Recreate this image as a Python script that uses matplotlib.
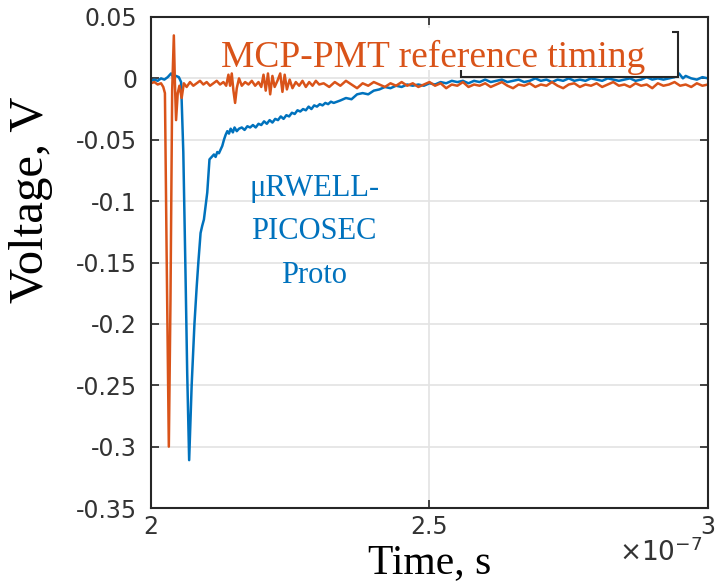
import numpy as np
import matplotlib
matplotlib.use("Agg")
import matplotlib.pyplot as plt
from matplotlib.patches import Rectangle
from matplotlib.ticker import FixedLocator, FuncFormatter

BLUE = "#0072BD"
ORANGE = "#D95319"
AXIS_GREY = "#262626"

# MCP-PMT reference signal (time in ns, voltage in V)
mcp_t = [200.0, 200.6, 201.2, 201.8, 202.2, 202.5, 202.8, 203.2, 203.5, 203.8,
         204.1, 204.3, 204.5, 204.8, 205.1, 205.5, 205.9, 206.4, 207.0, 207.6,
         208.2, 208.8, 209.4, 210.0, 210.6, 211.2, 211.8, 212.4, 213.0, 213.5,
         213.9, 214.2, 214.5, 214.8, 215.1, 215.4, 215.8, 216.3, 216.9, 217.5,
         218.1, 218.7, 219.3, 219.8, 220.2, 220.6, 221.0, 221.4, 221.8, 222.2,
         222.7, 223.2, 223.6, 224.0, 224.4, 224.9, 225.4, 226.0, 226.6, 227.2,
         227.8, 228.4, 229.0, 229.6, 230.2,
         231, 232, 233, 234, 235, 236, 237, 238, 239, 240,
         241, 242, 243, 244, 245, 246, 247, 248, 249, 250,
         251, 252, 253, 254, 255, 256, 257, 258, 259, 260,
         261, 262, 263, 264, 265, 266, 267, 268, 269, 270,
         271, 272, 273, 274, 275, 276, 277, 278, 279, 280,
         281, 282, 283, 284, 285, 286, 287, 288, 289, 290,
         291, 292, 293, 294, 295, 296, 297, 298, 299, 300]
mcp_v = [-0.004, -0.003, -0.005, -0.004, -0.007, -0.012, -0.140, -0.300, -0.180, -0.010,
         0.035, -0.005, -0.034, -0.012, -0.006, -0.016, -0.004, -0.007, -0.003, -0.006,
         -0.004, -0.002, -0.005, -0.003, -0.006, -0.004, -0.002, -0.005, -0.003, -0.006,
         0.003, -0.006, 0.004, -0.010, -0.020, -0.008, 0.000, -0.006, -0.003, -0.005,
         -0.002, -0.006, -0.003, -0.007, 0.003, -0.010, 0.004, -0.013, 0.002, -0.007,
         -0.002, 0.004, -0.011, 0.003, -0.009, -0.001, -0.008, -0.003, -0.006, -0.002,
         -0.007, -0.003, -0.006, -0.002, -0.005,
         -0.004, -0.007, -0.003, -0.006, -0.002, -0.005, -0.008, -0.004, -0.006, -0.003,
         -0.005, -0.007, -0.004, -0.006, -0.003, -0.006, -0.004, -0.007, -0.005, -0.003,
         -0.006, -0.004, -0.008, -0.005, -0.006, -0.003, -0.007, -0.005, -0.006, -0.004,
         -0.007, -0.005, -0.003, -0.006, -0.008, -0.005, -0.006, -0.004, -0.007, -0.005,
         -0.006, -0.003, -0.006, -0.008, -0.005, -0.004, -0.007, -0.005, -0.006, -0.004,
         -0.007, -0.005, -0.003, -0.006, -0.005, -0.007, -0.004, -0.006, -0.005, -0.008,
         -0.004, -0.006, -0.005, -0.003, -0.006, -0.005, -0.007, -0.004, -0.006, -0.005]

# uRWELL-PICOSEC prototype signal (time in ns, voltage in V)
pico_t = [200.0, 200.6, 201.2, 201.8, 202.4, 203.0, 203.6, 204.0, 204.5, 205.0,
          205.4, 205.8, 206.2, 206.5, 206.85, 207.3, 207.8, 208.2, 208.5, 208.9,
          209.2, 209.5, 209.8, 210.1, 210.5, 210.9, 211.3, 211.6, 211.9, 212.2,
          212.5, 212.8, 213.1, 213.4, 213.7, 214.0, 214.3, 214.7, 215.0, 215.4,
          215.8, 216.3, 216.8, 217.3, 217.8, 218.3, 218.8, 219.3, 219.8, 220.3,
          220.8, 221.3, 221.8, 222.3, 222.8, 223.3, 223.8, 224.3, 224.8, 225.3,
          225.8, 226.3, 226.8, 227.3, 227.8, 228.3, 228.8, 229.3, 229.8, 230.3,
          230.8, 231.3, 231.8, 232.3, 232.8,
          234, 235, 236, 237, 238, 239, 240, 241, 242, 243,
          244, 245, 246, 247, 248, 249, 250, 251, 252, 253,
          254, 255, 256, 257, 258, 259, 260, 261, 262, 263,
          264, 265, 266, 267, 268, 269, 270, 271, 272, 273,
          274, 275, 276, 277, 278, 279, 280, 281, 282, 283,
          284, 285, 286, 287, 288, 289, 290, 291, 292, 293,
          294, 294.8, 295.5, 296, 297, 298, 299, 300]
pico_v = [-0.002, -0.001, -0.002, 0.000, -0.001, 0.001, 0.004, 0.001, 0.002, 0.001,
          -0.003, -0.060, -0.160, -0.240, -0.311, -0.250, -0.200, -0.170, -0.150, -0.126,
          -0.120, -0.115, -0.104, -0.093, -0.066, -0.064, -0.062, -0.064, -0.060, -0.061,
          -0.058, -0.055, -0.050, -0.046, -0.043, -0.045, -0.041, -0.044, -0.040, -0.043,
          -0.041, -0.040, -0.042, -0.039, -0.040, -0.038, -0.040, -0.037, -0.038, -0.035,
          -0.037, -0.034, -0.036, -0.033, -0.034, -0.031, -0.033, -0.030, -0.031, -0.028,
          -0.029, -0.026, -0.027, -0.025, -0.026, -0.023, -0.025, -0.022, -0.023, -0.021,
          -0.022, -0.020, -0.021, -0.019, -0.020,
          -0.018, -0.016, -0.017, -0.013, -0.012, -0.013, -0.010, -0.009, -0.007, -0.008,
          -0.006, -0.007, -0.005, -0.006, -0.005, -0.006, -0.004, -0.005, -0.003, -0.004,
          -0.002, -0.003, -0.002, -0.004, -0.002, -0.003, -0.001, -0.003, -0.002, -0.001,
          -0.003, -0.002, -0.001, -0.003, -0.002, 0.000, -0.002, -0.001, -0.003, -0.001,
          -0.002, 0.000, -0.002, -0.001, -0.002, 0.000, -0.001, -0.002, 0.000, -0.001,
          -0.002, -0.001, 0.000, -0.002, -0.001, 0.001, -0.001, 0.000, -0.001, 0.000,
          0.001, 0.004, 0.000, 0.002, 0.000, -0.001, 0.001, 0.000]

x_ticks = [2.0e-7, 2.5e-7, 3.0e-7]
y_ticks = [-0.35, -0.3, -0.25, -0.2, -0.15, -0.1, -0.05, 0, 0.05]

plt.rcParams['axes.unicode_minus'] = False

fig = plt.figure(figsize=(7.17, 5.84), dpi=100)
ax = fig.add_axes([0.2106, 0.1301, 0.7768, 0.8408])

ax.plot(np.array(pico_t) * 1e-9, pico_v, color=BLUE, lw=1.8, zorder=2)
ax.plot(np.array(mcp_t) * 1e-9, mcp_v, color=ORANGE, lw=1.8, zorder=2)

ax.set_xlim(2e-7, 3e-7)
ax.set_ylim(-0.35, 0.05)

ax.xaxis.set_major_locator(FixedLocator(x_ticks))
ax.yaxis.set_major_locator(FixedLocator(y_ticks))
ax.xaxis.set_major_formatter(FuncFormatter(lambda v, p: "%g" % round(v * 1e7, 3)))
ax.yaxis.set_major_formatter(FuncFormatter(lambda v, p: "%g" % round(v, 3)))

ax.grid(True, color="#e3e3e3", lw=1.2)
ax.set_axisbelow(True)
ax.tick_params(direction="in", length=6, width=1.2, colors=AXIS_GREY,
               top=True, right=True, labelsize=17)
ax.tick_params(axis="y", pad=10)
ax.tick_params(axis="x", pad=5)
for lab in ax.get_xticklabels() + ax.get_yticklabels():
    lab.set_family("DejaVu Sans")
    lab.set_color("#333333")
for s in ax.spines.values():
    s.set_color(AXIS_GREY)
    s.set_linewidth(1.5)

ax.text(0.991, -0.092, "\u00d710$^{-7}$", transform=ax.transAxes, ha="right", va="center",
        family="DejaVu Sans", fontsize=19, color="#333333")

ax.set_xlabel("Time, s", family="Liberation Serif", fontsize=30, labelpad=3)
ax.set_ylabel("Voltage, V", family="Liberation Serif", fontsize=35)
ax.yaxis.set_label_coords(-0.176, 0.627)

# empty legend frame partly hidden by the annotation's white box
ax.add_patch(Rectangle((0.557, 0.878), 0.389, 0.091, transform=ax.transAxes,
                       facecolor="white", edgecolor=AXIS_GREY, lw=1.5, zorder=3))
ax.add_patch(Rectangle((0.113, 0.892), 0.822, 0.086, transform=ax.transAxes,
                       facecolor="white", edgecolor="none", zorder=3.5))

ax.text(212.6e-9, 0.009, "MCP-PMT reference timing", family="Liberation Serif",
        fontsize=27, color=ORANGE, ha="left", va="baseline", zorder=4)

ax.text(229.3e-9, -0.078, "\u03bcRWELL-\nPICOSEC\nProto", family="Liberation Serif",
        fontsize=22, color=BLUE, ha="center", va="top", linespacing=1.65, zorder=4)

fig.savefig("out.png", dpi=100)
